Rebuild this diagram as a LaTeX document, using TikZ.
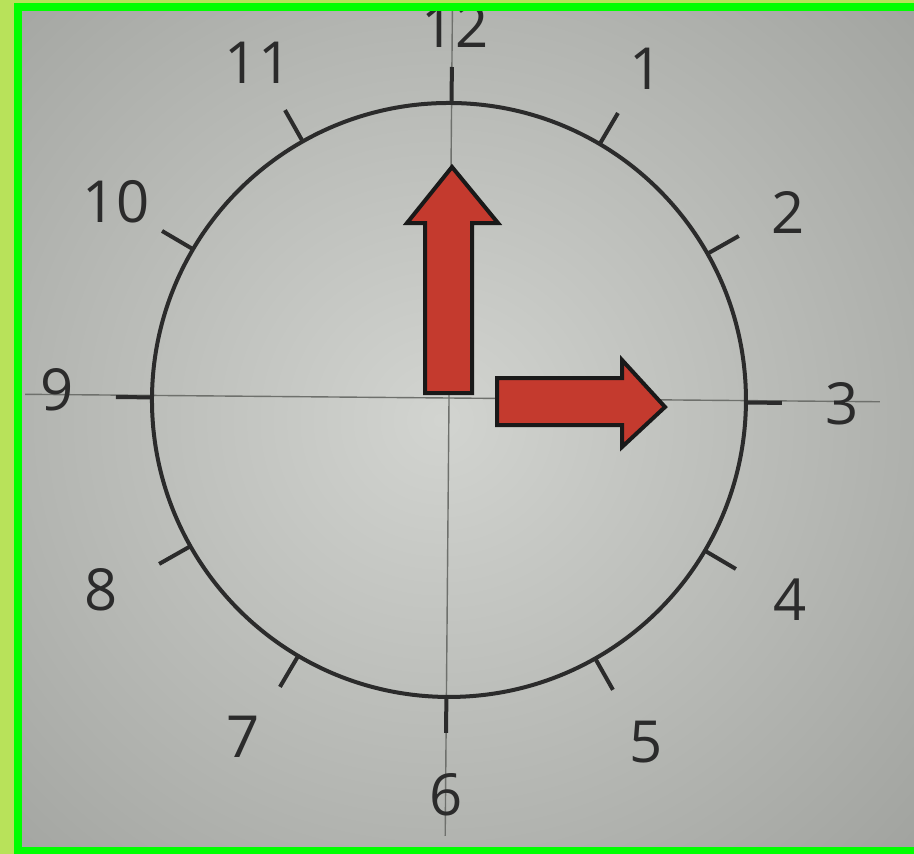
\documentclass[tikz,border=0pt]{standalone}
\usepackage{fontspec}
\setmainfont{Open Sans}
\definecolor{limebg}{HTML}{B8E25A}
\definecolor{frame}{HTML}{00FF00}
\definecolor{ink}{HTML}{2B2B2B}
\definecolor{axis}{HTML}{6E706C}
\definecolor{handred}{HTML}{C43A2E}
\definecolor{paperin}{HTML}{D2D4D0}
\definecolor{paperout}{HTML}{9C9E9A}
\tikzset{
  axisline/.style={draw=axis,line width=1.4},
  dial/.style={draw=ink,line width=4},
  tickmark/.style={draw=ink,line width=4},
  numlabel/.style={text=ink,font=\fontsize{58}{60}\selectfont,inner sep=0},
  hand/.style={fill=handred,draw=black!90,line width=4,line join=miter},
}
\begin{document}
\begin{tikzpicture}[x=1pt,y=-1pt]
\useasboundingbox (0,0) rectangle (914,854);
\fill[limebg] (0,0) rectangle (914,854);
\begin{scope}
  \clip (22,11) rectangle (914,847);
  \shade[inner color=paperin,outer color=paperout] (-280,-280) rectangle (1160,1120);
  \begin{scope}[rotate around={-0.5:(449,400)}]
    \coordinate (c) at (449,400);
    \draw[axisline] (25,398) -- (880,398);
    \draw[axisline] (449,0) -- (449,836);
    \draw[dial] (c) circle[radius=297];
    \foreach \a in {0,30,...,330}{
      \draw[tickmark] (c) ++({297*cos(\a)},{-297*sin(\a)}) -- ++({36*cos(\a)},{-36*sin(\a)});
    }
  \end{scope}
  \node[numlabel] (n12) at (455,26) {12};
  \node[numlabel] (n1) at (646,69) {1};
  \node[numlabel] (n2) at (788,212) {2};
  \node[numlabel] (n3) at (842,404) {3};
  \node[numlabel] (n4) at (790,600) {4};
  \node[numlabel] (n5) at (646,742) {5};
  \node[numlabel] (n6) at (446,795) {6};
  \node[numlabel] (n7) at (243,737) {7};
  \node[numlabel] (n8) at (101,590) {8};
  \node[numlabel] (n9) at (57,390) {9};
  \node[numlabel] (n10) at (116,202) {10};
  \node[numlabel] (n11) at (258,63) {11};
  % hands
  \draw[hand] (452,167) -- (498,223) -- (472,223) -- (472,393) -- (425,393) -- (425,223) -- (407,223) -- cycle;
  \draw[hand] (665,407) -- (622,447) -- (622,425) -- (497,425) -- (497,378) -- (622,378) -- (622,360) -- cycle;
\end{scope}
\fill[frame] (14,3) rectangle (914,11);
\fill[frame] (14,3) rectangle (22,854);
\fill[frame] (14,847) rectangle (914,854);
\end{tikzpicture}
\end{document}
